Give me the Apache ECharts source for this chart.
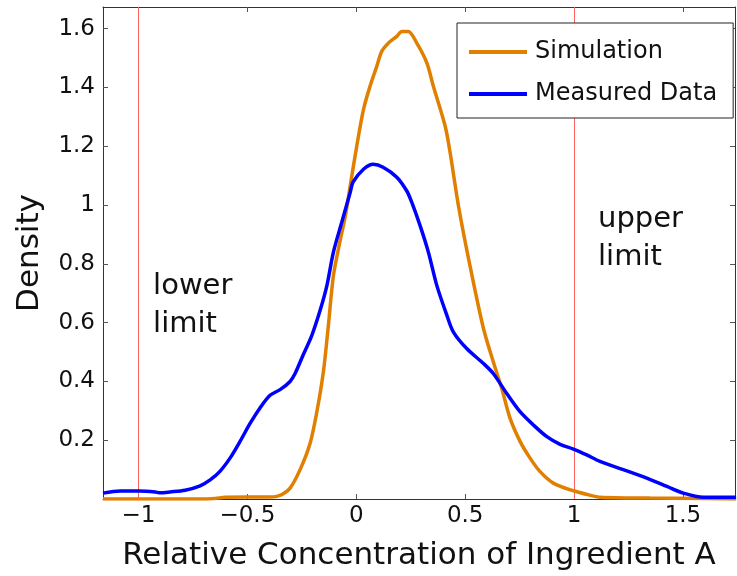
<!DOCTYPE html>
<html>
<head>
<meta charset="utf-8">
<script src="https://cdn.jsdelivr.net/npm/echarts@6/dist/echarts.min.js"></script>
<style>html,body{margin:0;padding:0;background:#fff;}#c{width:737px;height:576px;}</style>
</head>
<body>
<div id="c"></div>
<script>
// ---- data ----
const simX = [-1.163,-0.717,-0.648,-0.602,-0.396,-0.365,-0.341,-0.304,-0.258,-0.212,-0.181,-0.151,-0.128,-0.105,-0.074,-0.051,-0.028,0.002,0.033,0.063,0.094,0.117,0.147,0.186,0.209,0.239,0.278,0.324,0.354,0.408,0.431,0.469,0.522,0.584,0.629,0.668,0.706,0.752,0.798,0.843,0.905,0.997,1.073,1.119,1.348,1.578,1.744];
const simY = [0,0,0.002,0.006,0.007,0.009,0.015,0.037,0.10,0.19,0.297,0.433,0.591,0.76,0.88,0.96,1.065,1.2,1.325,1.404,1.472,1.523,1.551,1.574,1.591,1.591,1.551,1.484,1.404,1.269,1.178,0.998,0.794,0.58,0.467,0.376,0.275,0.196,0.139,0.094,0.054,0.028,0.013,0.006,0.003,0.002,0.0];
const measX = [-1.163,-1.084,-0.997,-0.923,-0.901,-0.855,-0.786,-0.717,-0.671,-0.625,-0.579,-0.533,-0.487,-0.442,-0.396,-0.350,-0.304,-0.281,-0.244,-0.204,-0.166,-0.135,-0.105,-0.067,-0.028,-0.015,0.033,0.078,0.123,0.186,0.232,0.255,0.293,0.331,0.370,0.416,0.446,0.507,0.584,0.629,0.691,0.752,0.813,0.875,0.936,0.997,1.058,1.119,1.226,1.334,1.426,1.502,1.594,1.744];
const measY = [0.02,0.027,0.027,0.024,0.021,0.024,0.03,0.045,0.065,0.095,0.14,0.197,0.258,0.31,0.353,0.372,0.40,0.427,0.49,0.557,0.642,0.726,0.84,0.941,1.043,1.078,1.122,1.139,1.129,1.095,1.048,1.009,0.93,0.84,0.726,0.625,0.568,0.512,0.461,0.427,0.359,0.297,0.252,0.212,0.186,0.17,0.15,0.128,0.10,0.071,0.043,0.02,0.006,0.006];
const xTicks = [-1,-0.5,0,0.5,1,1.5];
const yTicks = [0.2,0.4,0.6,0.8,1,1.2,1.4,1.6];
const limits = [-1, 1];
const annotations = [
  {x: -0.933, y: 0.659, text: 'lower\nlimit'},
  {x: 1.11, y: 0.885, text: 'upper\nlimit'}
];
const seriesNames = ['Simulation', 'Measured Data'];

// ---- chart ----
const FONT = '"DejaVu Sans", sans-serif';
const pair = (xs, ys) => xs.map((v, i) => [v, ys[i]]);
const fmt = v => String(v).replace('-', '\u2212');
const X_MIN = -1.163, X_MAX = 1.739, Y_MIN = 0, Y_MAX = 1.674;

const chart = echarts.init(document.getElementById('c'), null, {renderer: 'canvas'});
const tickStyle = {show: true, inside: true, length: 5, lineStyle: {color: '#555', width: 1}};
const lineAxis = {show: true, onZero: false, lineStyle: {color: '#333', width: 1}};

chart.setOption({
  backgroundColor: '#fff',
  animation: false,
  grid: {left: 103, right: 2, top: 7, bottom: 75, containLabel: false},
  legend: {
    orient: 'vertical', left: 457, top: 23,
    padding: [15, 16, 10, 12], itemGap: 14,
    itemWidth: 58, itemHeight: 4, icon: 'rect',
    borderColor: '#222', borderWidth: 1, backgroundColor: '#fff',
    textStyle: {fontFamily: FONT, fontSize: 24, color: '#111', lineHeight: 28, padding: [0, 0, 0, 3]},
    data: seriesNames
  },
  xAxis: [
    {type: 'value', position: 'bottom', min: X_MIN, max: X_MAX,
     axisLine: lineAxis, splitLine: {show: false},
     axisTick: Object.assign({customValues: xTicks}, tickStyle),
     axisLabel: {customValues: xTicks, formatter: fmt, fontFamily: FONT, fontSize: 23, color: '#111', margin: 6},
     name: 'Relative Concentration of Ingredient A', nameLocation: 'middle', nameGap: 41,
     nameTextStyle: {fontFamily: FONT, fontSize: 31, color: '#111'}},
    {type: 'value', position: 'top', min: X_MIN, max: X_MAX,
     axisLine: lineAxis, splitLine: {show: false},
     axisTick: Object.assign({customValues: xTicks}, tickStyle),
     axisLabel: {show: false}}
  ],
  yAxis: [
    {type: 'value', position: 'left', min: Y_MIN, max: Y_MAX,
     axisLine: lineAxis, splitLine: {show: false},
     axisTick: Object.assign({customValues: yTicks}, tickStyle),
     axisLabel: {customValues: yTicks, formatter: fmt, fontFamily: FONT, fontSize: 23, color: '#111', margin: 8},
     name: 'Density', nameLocation: 'middle', nameGap: 58, nameRotate: 90,
     nameTextStyle: {fontFamily: FONT, fontSize: 31, color: '#111'}},
    {type: 'value', position: 'right', min: Y_MIN, max: Y_MAX,
     axisLine: lineAxis, splitLine: {show: false},
     axisTick: Object.assign({customValues: yTicks}, tickStyle),
     axisLabel: {show: false}}
  ],
  series: [
    {name: seriesNames[0], type: 'line', data: pair(simX, simY), symbol: 'none', smooth: 0.3,
     lineStyle: {color: '#e07f00', width: 3.5}, itemStyle: {color: '#e07f00'}, z: 3,
     markLine: {silent: true, symbol: 'none', label: {show: false}, z: 1,
       lineStyle: {color: '#ff6060', width: 1, type: 'solid'},
       data: limits.map(v => ({xAxis: v}))}},
    {name: seriesNames[1], type: 'line', data: pair(measX, measY), symbol: 'none', smooth: 0.3,
     lineStyle: {color: '#0000ff', width: 3.5}, itemStyle: {color: '#0000ff'}, z: 4}
  ]
});

chart.setOption({
  graphic: annotations.map(a => {
    const p = chart.convertToPixel({xAxisIndex: 0, yAxisIndex: 0}, [a.x, a.y]);
    return {type: 'text', x: p[0], y: p[1], silent: true,
      style: {text: a.text, fontFamily: FONT, fontSize: 29, lineHeight: 38, fill: '#111',
        align: 'left', verticalAlign: 'middle'}};
  })
});
</script>
</body>
</html>
